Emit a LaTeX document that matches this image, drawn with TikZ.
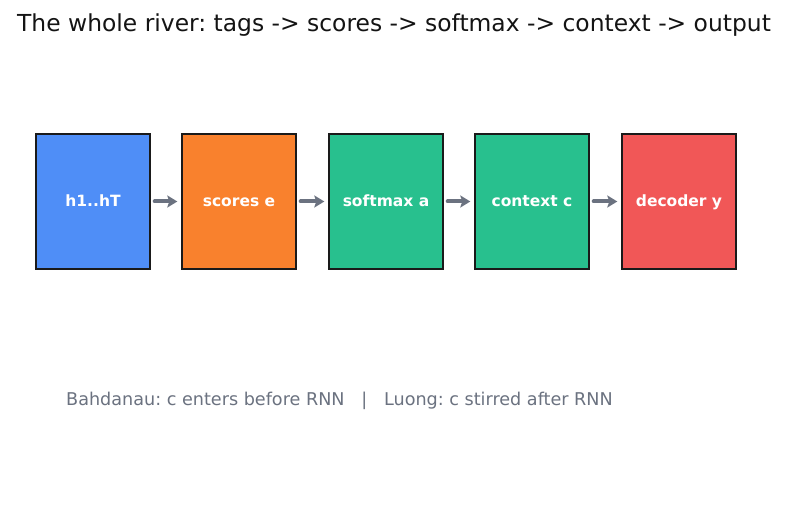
\documentclass[tikz,border=0pt]{standalone}
\usepackage{fontspec}
\setmainfont{DejaVu Sans}
\usetikzlibrary{arrows.meta}
\definecolor{cblue}{HTML}{4F8EF7}
\definecolor{corange}{HTML}{F9812D}
\definecolor{cgreen}{HTML}{28C08E}
\definecolor{cred}{HTML}{F15757}
\definecolor{cgray}{HTML}{6B7280}
\definecolor{cedge}{HTML}{1A1A1A}
\frenchspacing
\begin{document}
\begin{tikzpicture}[x=1pt,y=-1pt,
  box/.style={draw=cedge,line width=1.4pt,minimum width=114pt,minimum height=135pt,inner sep=0pt,text height=11pt,text depth=1.5pt,text=white,font=\fontsize{15.5}{18}\selectfont\bfseries},
  link/.style={draw=cgray,line width=4pt,line cap=round,-{Stealth[length=10pt,width=12pt,inset=2pt]}}]
\fill[white] (0,0) rectangle (787,510);
\useasboundingbox (0,0) rectangle (787,510);
\node[anchor=west,font=\fontsize{23.4}{26}\selectfont,text=black!92,inner sep=0pt] (title) at (17,25) {The whole river: tags -> scores -> softmax -> context -> output};
\node[box,fill=cblue] (h) at (93,201.5) {h1..hT};
\node[box,fill=corange] (s) at (239,201.5) {scores e};
\node[box,fill=cgreen] (a) at (386,201.5) {softmax a};
\node[box,fill=cgreen] (c) at (532,201.5) {context c};
\node[box,fill=cred] (d) at (679,201.5) {decoder y};
\draw[link] ([xshift=4pt]h.east) -- ([xshift=-4pt]s.west);
\draw[link] ([xshift=4pt]s.east) -- ([xshift=-4pt]a.west);
\draw[link] ([xshift=4pt]a.east) -- ([xshift=-4pt]c.west);
\draw[link] ([xshift=4pt]c.east) -- ([xshift=-4pt]d.west);
\node[anchor=west,font=\fontsize{17.6}{20}\selectfont,text=cgray,inner sep=0pt] (cap) at (66,400.5) {Bahdanau: c enters before RNN \ \ | \ \ Luong: c stirred after RNN};
\end{tikzpicture}
\end{document}
